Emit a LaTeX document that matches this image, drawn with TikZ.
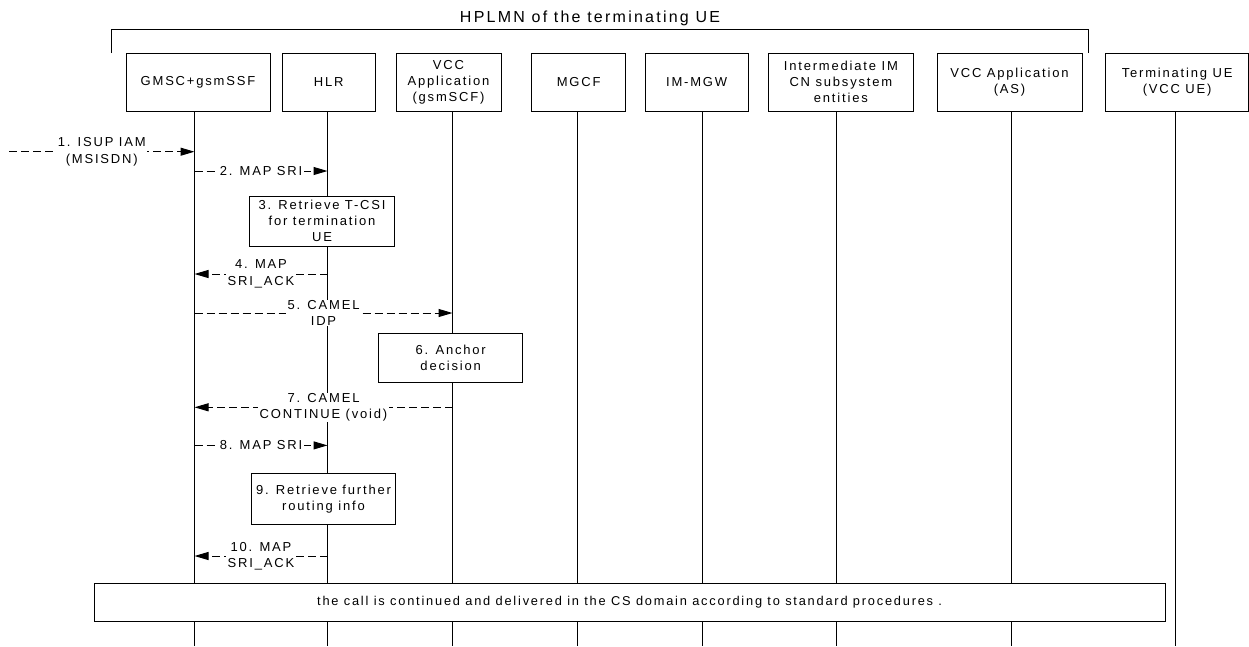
\documentclass[tikz,border=0pt]{standalone}
\usepackage{fontspec}
\setmainfont{Liberation Sans}[LetterSpace=14]
\usetikzlibrary{arrows.meta}
\begin{document}
\begin{tikzpicture}[x=1pt,y=-1pt,
  box/.style={draw, fill=white, line width=1pt, align=center, inner sep=0pt,
              font=\fontsize{13}{16}\selectfont},
  lifeline/.style={line width=1pt},
  msg/.style={line width=1pt, dash pattern=on 8pt off 4pt,
              -{Triangle[length=14pt,width=8pt]}},
  msglabel/.style={fill=white, align=center, inner xsep=1.5pt, inner ysep=0.5pt,
              font=\fontsize{13}{16.5}\selectfont},
]
\path[use as bounding box] (0,0) rectangle (1249,646);

% network bracket and its title
\coordinate (brL) at (111.7,53);
\coordinate (brR) at (1088.3,53);
\draw[line width=1pt] (brL) -- (brL |- 0,29) -- (brR |- 0,29) -- (brR);
\node[font=\fontsize{16}{18}\selectfont] (hdr) at (590,18) {HPLMN of the terminating UE};

% lifelines
\foreach \n/\x in {gmsc/194.5, hlr/327.5, vccs/452.5, mgcf/577.5,
                   mgw/702.5, imcn/836, vccas/1011.5, ue/1175.5} {
  \coordinate (\n-top) at (\x,111);
  \coordinate (\n-end) at (\x,646);
  \draw[lifeline] (\n-top) -- (\n-end);
}

% entities
\node[box, minimum width=144pt,   minimum height=58pt] (gmsc)  at (198,82)     {GMSC+gsmSSF};
\node[box, minimum width=93.5pt,  minimum height=58pt] (hlr)   at (328.75,82)  {HLR};
\node[box, minimum width=105pt,   minimum height=58pt] (vccs)  at (448.5,82)   {VCC\\Application\\(gsmSCF)};
\node[box, minimum width=94pt,    minimum height=58pt] (mgcf)  at (578.7,82)   {MGCF};
\node[box, minimum width=103.3pt, minimum height=58pt] (mgw)   at (696.65,82)  {IM-MGW};
\node[box, minimum width=144.3pt, minimum height=58pt] (imcn)  at (840.85,82)  {Intermediate IM\\CN subsystem\\entities};
\node[box, minimum width=145pt,   minimum height=58pt] (vccas) at (1009.5,82)  {VCC Application\\(AS)};
\node[box, minimum width=142.8pt, minimum height=58pt] (ue)    at (1177.1,82)  {Terminating UE\\(VCC UE)};

% message rows
\coordinate (m1)  at (9,151.7);
\coordinate (m2)  at (0,171);
\coordinate (m4)  at (0,274);
\coordinate (m5)  at (0,313);
\coordinate (m7)  at (0,407.3);
\coordinate (m8)  at (0,445.4);
\coordinate (m10) at (0,556);

\draw[msg] (m1) -- (gmsc-top |- m1)
  node[msglabel, pos=0.5] {1. ISUP IAM\\(MSISDN)};
\draw[msg] (gmsc-top |- m2) -- (hlr-top |- m2)
  node[msglabel, pos=0.5] {2. MAP SRI};

\node[box, minimum width=144.3pt, minimum height=50pt] (s3) at (322,221)
  {3. Retrieve T-CSI\\for termination\\UE};

\draw[msg] (hlr-top |- m4) -- (gmsc-top |- m4)
  node[msglabel, pos=0.5] {4. MAP\\SRI\_ACK};
\draw[msg] (gmsc-top |- m5) -- (vccs-top |- m5)
  node[msglabel, pos=0.5] {5. CAMEL\\IDP};

\node[box, minimum width=144pt, minimum height=49.4pt] (s6) at (450.7,358)
  {6. Anchor\\decision};

\draw[msg] (vccs-top |- m7) -- (gmsc-top |- m7)
  node[msglabel, pos=0.5] {7. CAMEL\\CONTINUE (void)};
\draw[msg] (gmsc-top |- m8) -- (hlr-top |- m8)
  node[msglabel, pos=0.5] {8. MAP SRI};

\node[box, minimum width=144.3pt, minimum height=51pt] (s9) at (323.5,499)
  {9. Retrieve further\\routing info};

\draw[msg] (hlr-top |- m10) -- (gmsc-top |- m10)
  node[msglabel, pos=0.5] {10. MAP\\SRI\_ACK};

% continuation
\node[box, minimum width=1070.7pt, minimum height=38.4pt,
      font=\fontsize{12.8}{15}\selectfont] (cont) at (629.65,602.5)
  {the call is continued and delivered in the CS domain according to standard procedures .};
\end{tikzpicture}
\end{document}
